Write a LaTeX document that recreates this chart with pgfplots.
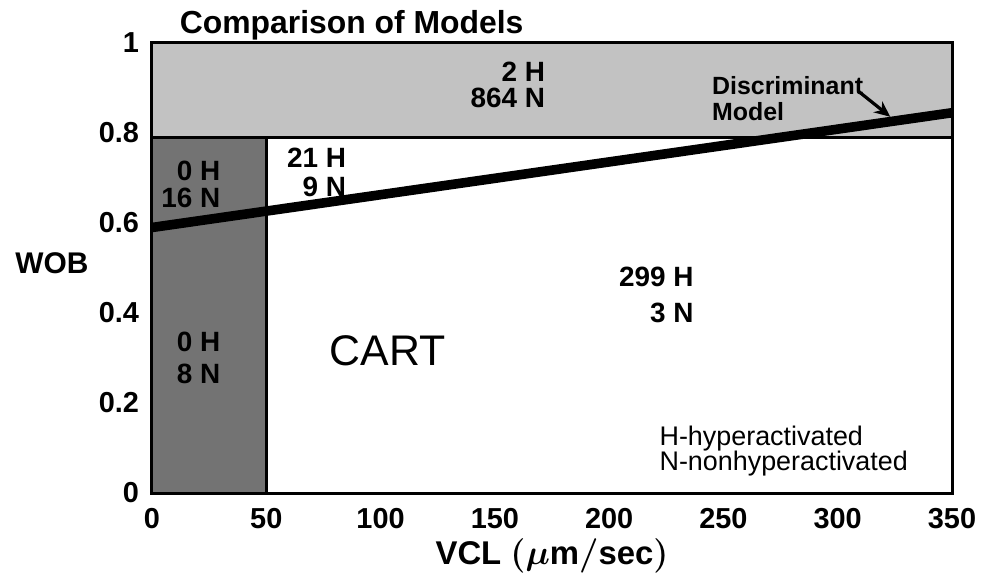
\documentclass[border=0pt]{standalone}
\usepackage{fontspec}
\setmainfont{Liberation Sans}
\usepackage{pgfplots}
\pgfplotsset{compat=1.18}
\usetikzlibrary{arrows.meta}
\newcommand\fs[1]{\fontsize{#1}{#1}\selectfont}

\begin{document}
\begin{tikzpicture}
\useasboundingbox (-76bp,-40bp) rectangle (418bp,246.5bp);
\begin{axis}[
    at={(0,0)}, anchor=south west,
    width=400bp, height=225bp, scale only axis,
    clip mode=individual,
    xmin=0, xmax=350, ymin=0, ymax=1,
    xtick={0,50,...,350},
    xticklabels={0,50,100,150,200,250,300,350},
    ytick={0,0.2,0.4,0.6,0.8,1},
    yticklabels={0,0.2,0.4,0.6,0.8,1},
    major tick length=0pt,
    axis on top,
    axis line style={line width=1.5bp},
    tick label style={font=\fs{14.5}\bfseries},
    xticklabel style={yshift=-4bp},
    yticklabel style={xshift=-3bp},
    xlabel={VCL $(\mu\mathrm{m/sec})$},
    xlabel style={font=\fs{16.5}\bfseries\boldmath, yshift=2bp},
]
% shaded regions
\addplot[draw=none, fill=black!24] coordinates {(0,0.79) (350,0.79) (350,1) (0,1)} --cycle;
\addplot[draw=none, fill=black!55] coordinates {(0,0) (50,0) (50,0.79) (0,0.79)} --cycle;
% CART boundaries
\addplot[black, line width=1.5bp] coordinates {(0,0.79) (350,0.79)};
\addplot[black, line width=1.5bp] coordinates {(50,0) (50,0.79)};
% discriminant line
\addplot[black, line width=4.8bp] coordinates {(0,0.59) (350,0.845)};

\draw[-{Stealth[length=8bp,width=7bp]}, line width=1.6bp]
    (axis cs:309,0.893) -- (axis cs:323,0.836);

% counts
\node[anchor=east, font=\fs{14}\bfseries] at (axis cs:175,0.935) {2 H};
\node[anchor=east, font=\fs{14}\bfseries] at (axis cs:175,0.878) {864 N};
\node[anchor=east, font=\fs{14}\bfseries] at (axis cs:88,0.745) {21 H};
\node[anchor=east, font=\fs{14}\bfseries] at (axis cs:88,0.68) {9 N};
\node[anchor=east, font=\fs{14}\bfseries] at (axis cs:33,0.715) {0 H};
\node[anchor=east, font=\fs{14}\bfseries] at (axis cs:33,0.655) {16 N};
\node[anchor=east, font=\fs{14}\bfseries] at (axis cs:33,0.335) {0 H};
\node[anchor=east, font=\fs{14}\bfseries] at (axis cs:33,0.265) {8 N};
\node[anchor=east, font=\fs{14}\bfseries] at (axis cs:240,0.48) {299 H};
\node[anchor=east, font=\fs{14}\bfseries] at (axis cs:240,0.40) {3 N};
\node[font=\fs{21.5}] at (axis cs:103,0.315) {CART};

\node[anchor=west, font=\fs{12.5}\bfseries] at (axis cs:242,0.905) {Discriminant};
\node[anchor=west, font=\fs{12.5}\bfseries] at (axis cs:242,0.848) {Model};

\node[anchor=west, font=\fs{13.5}] at (axis cs:219,0.122) {H-hyperactivated};
\node[anchor=west, font=\fs{13.5}] at (axis cs:219,0.065) {N-nonhyperactivated};

\node[anchor=base west, font=\fs{16}\bfseries] at (axis description cs:0.026,1.022) {Comparison of Models};
\node[font=\fs{15}\bfseries] at (axis description cs:-0.125,0.51) {WOB};
\end{axis}
\end{tikzpicture}
\end{document}
